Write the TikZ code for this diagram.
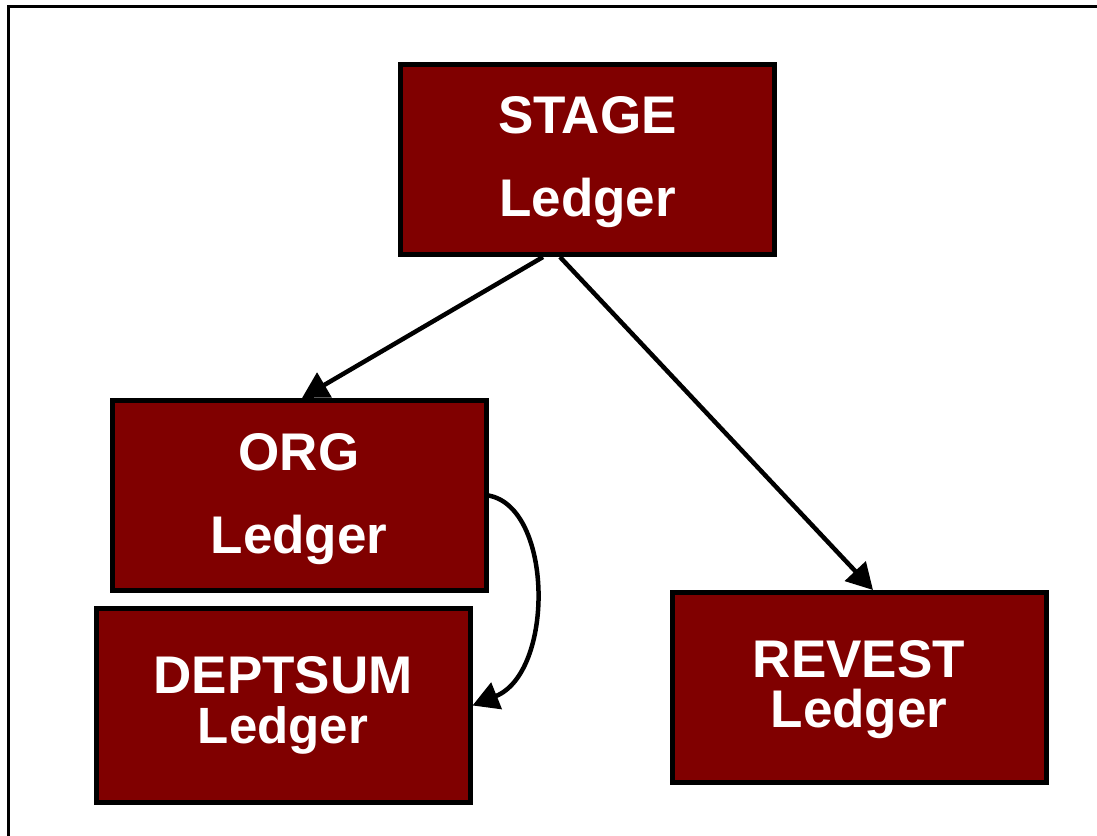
\documentclass[tikz,border=0pt]{standalone}
\usepackage{fontspec}
\setmainfont{Liberation Sans}
\usetikzlibrary{arrows.meta,calc}
\definecolor{boxred}{RGB}{128,0,0}
\begin{document}
\begin{tikzpicture}[x=1pt,y=-1pt,
  ledgerbox/.style={rectangle,draw=black,fill=boxred,line width=5pt,
    minimum width=374pt,minimum height=190pt,inner sep=0pt},
  lbl/.style={text=white,font=\fontsize{53}{53}\selectfont\bfseries,anchor=base,inner sep=0pt},
  lblsmall/.style={lbl,font=\fontsize{51}{51}\selectfont\bfseries},
  conn/.style={line width=4.5pt,-{Triangle[length=26pt,width=28pt]}}]
\useasboundingbox (0,0) rectangle (1097,835);
% frame
\draw[line width=2.5pt,line join=miter] (8.5,840) -- (8.5,6.3) -- (1100,6.3);
% boxes
\node[ledgerbox] (stage) at (587.5,159.5) {};
\node[ledgerbox] (org) at (299,495.5) {};
\node[ledgerbox,minimum height=194pt] (deptsum) at (283,705.5) {};
\node[ledgerbox] (revest) at (859,687.5) {};
% labels
\node[lbl] (stageA) at ($(stage.center)+(0,-26.5)$) {STAGE};
\node[lbl] (stageB) at ($(stage.center)+(0,56.5)$) {Ledger};
\node[lbl] (orgA) at ($(org.center)+(0,-25.5)$) {ORG};
\node[lbl] (orgB) at ($(org.center)+(0,57.5)$) {Ledger};
\node[lbl] (deptA) at ($(deptsum.center)+(0,-12.5)$) {DEPTSUM};
\node[lblsmall] (deptB) at ($(deptsum.center)+(0,38)$) {Ledger};
\node[lbl] (revA) at ($(revest.center)+(0,-10.5)$) {REVEST};
\node[lbl] (revB) at ($(revest.center)+(0,39.5)$) {Ledger};
% connectors
\draw[conn] ($(stage.south)+(-44.5,0)$) -- ($(org.north)+(3,0)$);
\draw[conn] ($(stage.south)+(-27.5,0)$) -- ($(revest.north)+(14,0)$);
\draw[conn] (org.east) .. controls +(65,12) and +(82,-33) .. (deptsum.east);
\end{tikzpicture}
\end{document}
